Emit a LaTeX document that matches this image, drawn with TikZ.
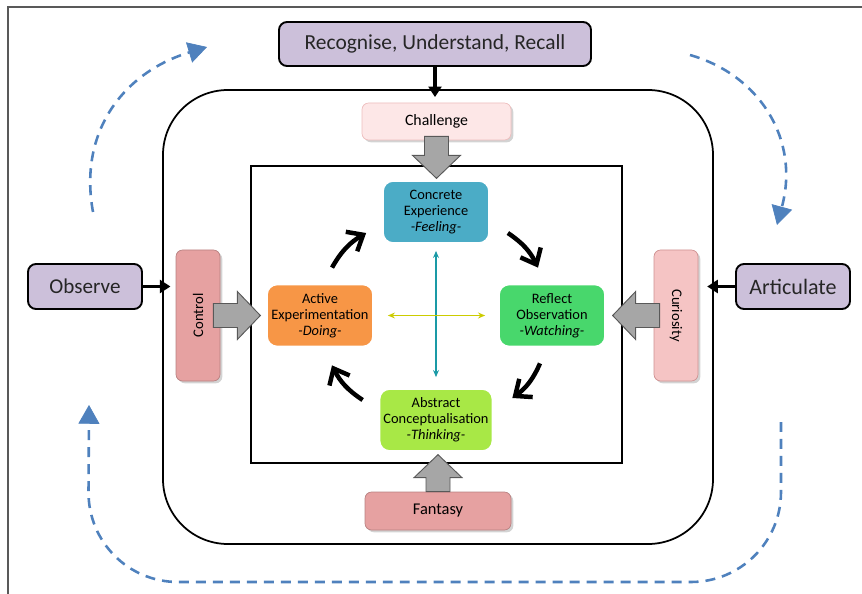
\documentclass[tikz,border=0pt]{standalone}
\usepackage{fontspec}
\setmainfont{Carlito}
\usetikzlibrary{arrows.meta,shadows,calc}

\definecolor{lav}{HTML}{CCC0DA}
\definecolor{cexp}{HTML}{4BACC6}
\definecolor{aexp}{HTML}{F79646}
\definecolor{robs}{HTML}{48D76C}
\definecolor{acon}{HTML}{A8E846}
\definecolor{rose}{HTML}{E6A1A1}
\definecolor{palerose}{HTML}{F5C4C4}
\definecolor{blush}{HTML}{FDE7E7}
\definecolor{dashblue}{HTML}{4F81BD}
\definecolor{tealline}{HTML}{1A9AA6}
\definecolor{yellowline}{HTML}{CCCC00}

\newcommand{\grayarrow}[3]{%
  \draw[blockarrow, shift={(#1)}, rotate=#2] (0,-12) -- (#3-23,-12) -- (#3-23,-24) -- (#3,0) -- (#3-23,24) -- (#3-23,12) -- (0,12) -- cycle;
}

\begin{document}
\begin{tikzpicture}[x=0.03cm, y=-0.03cm,
    conn/.style={line width=3pt, -{Triangle[length=9pt,width=11pt]}},
    cyc/.style={line width=3.8pt, -{Straight Barb[angle=80:15pt]}},
    blockarrow/.style={fill=black!35, draw=black!65, line width=0.8pt},
    bluedash/.style={dashblue, line width=2.2pt, dash pattern=on 8.5pt off 6pt,
        -{Triangle[length=16pt,width=18pt,line width=0.6pt,fill=dashblue]}},
    stage/.style={rounded corners=0.3cm, draw=white, line width=1.5pt, minimum width=3.18cm,
        minimum height=1.86cm, align=center, font=\fontsize{12.3}{13.6}\selectfont}]
  \useasboundingbox (0,0) rectangle (862,594);
  \draw[black!65, line width=1.6pt] (8,594) -- (8,7) -- (862,7);

  \node[draw, line width=1.5pt, rounded corners=1.95cm, minimum width=16.5cm, minimum height=13.62cm] (ctx) at (438,317) {};
  \node[draw, line width=0.9pt, minimum width=11.13cm, minimum height=8.91cm] (inner) at (436.5,314.5) {};

  \begin{scope}[every node/.style={draw, line width=1.6pt, fill=lav, rounded corners=0.24cm, text=black!85}]
    \node[minimum width=9.36cm, minimum height=1.32cm, font=\fontsize{18.3}{21}\selectfont] (rec) at (435,44) {Recognise, Understand, Recall};
    \node[minimum width=3.42cm, minimum height=1.35cm, font=\fontsize{18}{21}\selectfont] (obs) at (85,286.5) {Observe};
    \node[minimum width=3.42cm, minimum height=1.35cm, font=\fontsize{18.8}{21}\selectfont] (art) at (793,286.5) {Articulate};
  \end{scope}

  \begin{scope}[every node/.style={rounded corners=0.2cm, line width=0.6pt,
      drop shadow={shadow xshift=2pt, shadow yshift=-2pt, opacity=0.35}}]
    \node[fill=blush, draw=rose!70, minimum width=4.47cm, minimum height=1.11cm, font=\fontsize{13.5}{16}\selectfont] (chal) at (436.5,121.5) {Challenge};
    \node[fill=rose, draw=rose!80!black, minimum width=4.38cm, minimum height=1.14cm, font=\fontsize{14}{17}\selectfont] (fant) at (438,511) {Fantasy};
    \node[fill=rose, draw=rose!80!black, minimum width=1.32cm, minimum height=3.93cm, font=\fontsize{12.5}{15}\selectfont] (ctrl) at (198,315.5) {\rotatebox{90}{Control}};
    \node[fill=palerose, draw=rose!90!black, minimum width=1.32cm, minimum height=3.93cm, font=\fontsize{12.5}{15}\selectfont] (curi) at (676,315.5) {\rotatebox{-90}{Curiosity}};
  \end{scope}

  \grayarrow{$(chal.south)+(0,-4)$}{-90}{42}
  \grayarrow{$(ctrl.east)+(-7,0)$}{0}{47}
  \grayarrow{$(curi.west)+(6,0)$}{180}{47}
  \grayarrow{fant.north}{90}{37}

  \begin{scope}[every node/.style={stage}]
    \node[fill=cexp] (ce) at (436,212) {Concrete\\Experience\\\textit{-Feeling-}};
    \node[fill=aexp] (ae) at (320,315.5) {Active\\Experimentation\\\textit{-Doing-}};
    \node[fill=robs] (ro) at (552,315.5) {Reflect\\Observation\\\textit{-Watching-}};
    \node[fill=acon] (ac) at (436,420) {Abstract\\Conceptualisation\\\textit{-Thinking-}};
  \end{scope}

  \draw[conn, shorten >=-0.24cm] (rec.south) -- (rec.south |- ctx.north);
  \draw[conn, shorten >=-0.25cm] (obs.east) -- (obs.east -| ctx.west);
  \draw[conn, shorten >=-0.2cm] (art.west) -- (art.west -| ctx.east);

  \draw[cyc] ($(ae.north)+(12,-16)$) to[bend left=15] ($(ce.west)+(-16,21)$);
  \draw[cyc] ($(ce.east)+(18,21)$) to[bend left=15] ($(ro.north)+(-14,-16)$);
  \draw[cyc] ($(ro.south)+(-12,16)$) to[bend left=15] ($(ac.east)+(19,-22)$);
  \draw[cyc] ($(ac.west)+(-16,-20)$) to[bend left=15] ($(ae.south)+(12,18)$);

  \draw[tealline, line width=1.6pt, {Stealth[length=6pt,width=5pt]}-{Stealth[length=6pt,width=5pt]},
    shorten <=0.21cm, shorten >=0.33cm] (ce.south) -- (ac.north);
  \draw[yellowline, line width=1.6pt, {Stealth[length=6pt,width=5pt]}-{Stealth[length=6pt,width=5pt]},
    shorten <=0.42cm, shorten >=0.39cm] (ae.east) -- (ro.west);

  \draw[bluedash] (93,212) .. controls (78,130) and (125,72) .. (207,47);
  \draw[bluedash] (690,55) .. controls (760,75) and (800,140) .. (777,225);
  \draw[bluedash, rounded corners=2.7cm] (781,422) -- (781,582) -- (88,582) -- (89,405);
\end{tikzpicture}
\end{document}
